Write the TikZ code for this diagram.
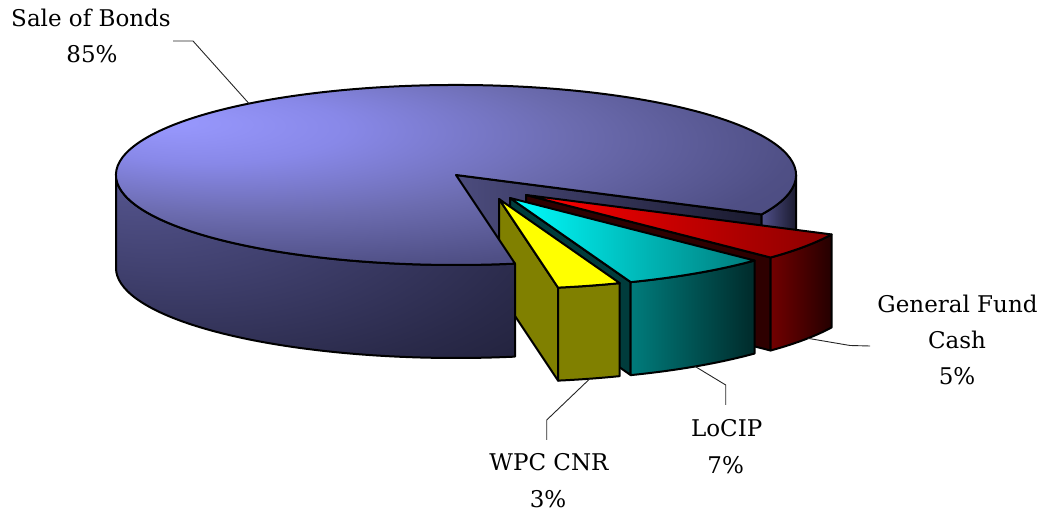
\documentclass[tikz,border=0pt]{standalone}
\usepackage{fontspec}
\setmainfont{DejaVu Serif}
\usetikzlibrary{calc}
\definecolor{mtA}{HTML}{9999FF}
\definecolor{mtB}{HTML}{8888E8}
\definecolor{mtC}{HTML}{6C6CB0}
\definecolor{mtD}{HTML}{4F4F85}
\definecolor{mtE}{HTML}{444474}
\definecolor{mwA}{HTML}{55558F}
\definecolor{mwB}{HTML}{40406E}
\definecolor{mwC}{HTML}{2A2A4A}
\definecolor{mwD}{HTML}{1C1C33}
\definecolor{mwE}{HTML}{121222}
\definecolor{mcutL}{HTML}{4C4C7E}
\definecolor{mcutR}{HTML}{1A1A2E}
\definecolor{mrwL}{HTML}{50508A}
\definecolor{mrwR}{HTML}{1A1A2E}
\definecolor{redTL}{HTML}{FF0000}
\definecolor{redTR}{HTML}{8A0000}
\definecolor{redWL}{HTML}{720000}
\definecolor{redWR}{HTML}{240000}
\definecolor{redCut}{HTML}{2E0000}
\definecolor{cyTL}{HTML}{00FFFF}
\definecolor{cyTR}{HTML}{007A7A}
\definecolor{cyWL}{HTML}{007C7C}
\definecolor{cyWR}{HTML}{002A2A}
\definecolor{cyCut}{HTML}{003C3C}
\definecolor{yeTop}{HTML}{FFFF00}
\definecolor{yeWall}{HTML}{808000}
\pgfdeclareradialshading{maintop}{\pgfpoint{-19bp}{12.5bp}}{color(0bp)=(mtA); color(9bp)=(mtB); color(20bp)=(mtC); color(31bp)=(mtD); color(44bp)=(mtE); color(60bp)=(mtE)}
\pgfdeclareradialshading{mainwall}{\pgfpoint{-25bp}{25bp}}{color(0bp)=(mwA); color(20bp)=(mwB); color(40bp)=(mwC); color(55bp)=(mwD); color(75bp)=(mwE)}
\begin{document}
\begin{tikzpicture}[x=1pt,y=1pt]
\tikzset{
  outl/.style={draw=black,line width=2pt,line join=round},
  leader/.style={draw=black!85,line width=0.9pt},
  lbl/.style={font=\fontsize{23}{28}\selectfont,anchor=base,inner sep=0pt,text=black},
  ell/.style={x radius=340pt,y radius=90pt}
}
\useasboundingbox (0,0) rectangle (1047,516);
\coordinate (C) at (456,341);
\coordinate (PR) at (526,321);
\coordinate (PC) at (510,318);
\coordinate (PY) at (499,317);

% main slice: cut face and right wall (behind the exploded slices)
\shadedraw[outl,left color=mcutL,right color=mcutR]
  (C) -- ($(C)+(-26:340 and 90)$) -- ++(0,-93) -- ($(C)+(0,-93)$) -- cycle;
\shadedraw[outl,left color=mrwL,right color=mrwR]
  ($(C)+(-26:340 and 90)$) arc[start angle=-26,end angle=0,ell] -- ++(0,-93)
  arc[start angle=0,end angle=-26,ell] -- cycle;

% General Fund Cash (red)
\filldraw[outl,fill=redCut]
  (PR) -- ($(PR)+(-44:340 and 90)$) -- ++(0,-93) -- ($(PR)+(0,-93)$) -- cycle;
\shadedraw[outl,left color=redWL,right color=redWR]
  ($(PR)+(-44:340 and 90)$) arc[start angle=-44,end angle=-26,ell] -- ++(0,-93)
  arc[start angle=-26,end angle=-44,ell] -- cycle;
\shadedraw[outl,left color=redTL,middle color=red!88!black,right color=redTR]
  (PR) -- ($(PR)+(-44:340 and 90)$) arc[start angle=-44,end angle=-26,ell] -- cycle;

% LoCIP (cyan)
\filldraw[outl,fill=cyCut]
  (PC) -- ($(PC)+(-69.2:340 and 90)$) -- ++(0,-93) -- ($(PC)+(0,-93)$) -- cycle;
\shadedraw[outl,left color=cyWL,right color=cyWR]
  ($(PC)+(-69.2:340 and 90)$) arc[start angle=-69.2,end angle=-44,ell] -- ++(0,-93)
  arc[start angle=-44,end angle=-69.2,ell] -- cycle;
\shadedraw[outl,left color=cyTL,right color=cyTR]
  (PC) -- ($(PC)+(-69.2:340 and 90)$) arc[start angle=-69.2,end angle=-44,ell] -- cycle;

% WPC CNR (yellow)
\filldraw[outl,fill=yeWall]
  (PY) -- ($(PY)+(-80:340 and 90)$) -- ++(0,-93) -- ($(PY)+(0,-93)$) -- cycle;
\filldraw[outl,fill=yeWall]
  ($(PY)+(-80:340 and 90)$) arc[start angle=-80,end angle=-69.2,ell] -- ++(0,-93)
  arc[start angle=-69.2,end angle=-80,ell] -- cycle;
\filldraw[outl,fill=yeTop]
  (PY) -- ($(PY)+(-80:340 and 90)$) arc[start angle=-80,end angle=-69.2,ell] -- cycle;

% main slice: front wall and top (in front)
\shadedraw[outl,shading=mainwall]
  ($(C)+(180:340 and 90)$) arc[start angle=180,end angle=280,ell] -- ++(0,-93)
  arc[start angle=280,end angle=180,ell] -- cycle;
\shadedraw[outl,shading=maintop]
  (C) -- ($(C)+(-26:340 and 90)$) arc[start angle=-26,end angle=280,ell] -- cycle;

% labels
\node[lbl] (sobT) at (91,489.3) {Sale of Bonds};
\node[lbl] (sobP) at (92,453.3) {85\%};
\node[lbl] (gfT1) at (957.5,203.7) {General Fund};
\node[lbl] (gfT2) at (957,167.7) {Cash};
\node[lbl] (gfP)  at (957,131) {5\%};
\node[lbl] (locT) at (726.7,79.3) {LoCIP};
\node[lbl] (locP) at (725.7,42.7) {7\%};
\node[lbl] (wpcT) at (549,45) {WPC CNR};
\node[lbl] (wpcP) at (548,8.3) {3\%};

% leader lines
\coordinate (sobA) at ($(C)+(127.5:340 and 90)$);
\coordinate (sobB) at (193,475);
\coordinate (sobE) at (173,475);
\draw[leader] (sobA) -- (sobB) -- (sobE);

\coordinate (gfA) at ($(PR)+(-34:340 and 90)-(0,93)$);
\coordinate (gfB) at (850,170.5);
\coordinate (gfE) at (870,170);
\draw[leader] (gfA) -- (gfB) -- (gfE);

\coordinate (locA) at ($(PC)+(-57:340 and 90)-(0,93)$);
\coordinate (locB) at (725.7,131);
\coordinate (locE) at (725.7,111);
\draw[leader] (locA) -- (locB) -- (locE);

\coordinate (wpcA) at ($(PY)+(-74.5:340 and 90)-(0,93)$);
\coordinate (wpcB) at (546.7,96);
\coordinate (wpcE) at (546.7,76);
\draw[leader] (wpcA) -- (wpcB) -- (wpcE);
\end{tikzpicture}
\end{document}
